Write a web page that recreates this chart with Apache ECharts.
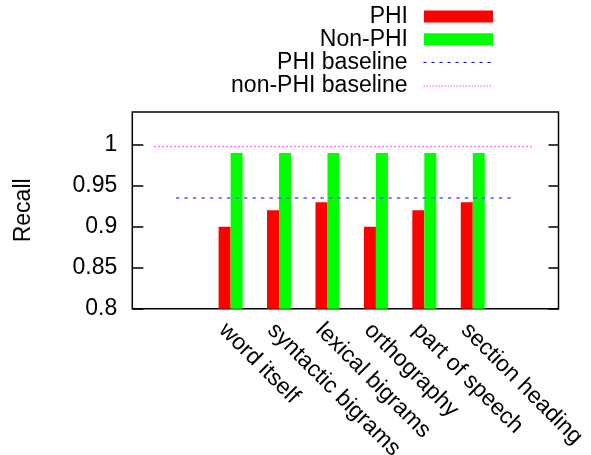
<!DOCTYPE html>
<html><head><meta charset="utf-8">
<script src="https://cdn.jsdelivr.net/npm/echarts@6/dist/echarts.min.js"></script>
<style>html,body{margin:0;padding:0;background:#fff}#c{width:591px;height:455px}</style>
</head><body><div id="c"></div>
<script>
const categories = ['word itself','syntactic bigrams','lexical bigrams','orthography','part of speech','section heading'];
const phiValues = [0.90, 0.92, 0.93, 0.90, 0.92, 0.93];
const nonPhiValues = [0.99, 0.99, 0.99, 0.99, 0.99, 0.99];
const phiBaselineValue = 0.935;
const nonPhiBaselineValue = 0.998;
const phiBaselineSpan = [-1.13, 5.87];
const nonPhiBaselineSpan = [-1.58, 6.27];
const yTicks = [0.8, 0.85, 0.9, 0.95, 1];
const seriesNames = ['PHI', 'Non-PHI', 'PHI baseline', 'non-PHI baseline'];

const FONT = 'Liberation Sans, Arial, Helvetica, sans-serif';
const FS = 23;
const legendTops = [5, 27.8, 51, 74.5];
const legendOverrides = [
  {icon: 'rect'},
  {icon: 'rect'},
  {itemStyle: {color: 'rgba(0,0,0,0)', borderWidth: 0}, lineStyle: {color: '#0000ff', width: 1, type: [3, 5]}},
  {itemStyle: {color: 'rgba(0,0,0,0)', borderWidth: 0}, lineStyle: {color: '#ff44ff', width: 1, type: [1.5, 1.5]}}
];

const chart = echarts.init(document.getElementById('c'), null, {renderer: 'canvas'});
const idx = categories.map((c, i) => i);

chart.setOption({
  animation: false,
  backgroundColor: '#fff',
  grid: {left: 132.3, top: 112, right: 32.5, bottom: 146.3, containLabel: false, outerBoundsMode: 'none',
         show: true, borderColor: '#000', borderWidth: 1.5, backgroundColor: 'transparent'},
  legend: seriesNames.map((name, k) => ({
    data: [Object.assign({name: name}, legendOverrides[k])], right: 98, top: legendTops[k], orient: 'vertical', align: 'right', padding: 0,
    itemWidth: 69, itemHeight: 12, selectedMode: false,
    textStyle: {fontSize: FS, color: '#000', fontFamily: FONT, padding: [0, 11, 0, 0]}
  })),
  xAxis: {
    type: 'value', min: -2.03, max: 6.77,
    splitLine: {show: false}, axisLine: {show: false, onZero: false}, axisTick: {show: false},
    axisLabel: {
      customValues: idx, rotate: -45, margin: 10, verticalAlign: 'top', align: 'left', fontSize: FS, color: '#000', fontFamily: FONT,
      formatter: v => categories[Math.round(v)] || ''
    }
  },
  yAxis: [{
    type: 'value', min: 0.8, max: 1.04, position: 'left',
    name: 'Recall', nameLocation: 'middle', nameRotate: 90, nameGap: 97,
    nameTextStyle: {fontSize: FS, color: '#000', fontFamily: FONT},
    splitLine: {show: false}, axisLine: {show: false, onZero: false},
    axisTick: {show: true, inside: true, length: 11, customValues: yTicks, lineStyle: {color: '#000', width: 1.5}},
    axisLabel: {customValues: yTicks, margin: 15, fontSize: FS, color: '#000', fontFamily: FONT}
  }, {
    type: 'value', min: 0.8, max: 1.04, position: 'right',
    splitLine: {show: false}, axisLine: {show: false, onZero: false},
    axisTick: {show: true, inside: true, length: 10, customValues: yTicks, lineStyle: {color: '#000', width: 1.5}},
    axisLabel: {show: false}
  }],
  series: [
    {name: seriesNames[0], type: 'bar', barWidth: 12, barGap: '0%', itemStyle: {color: '#ff0000'},
     data: idx.map(i => [i, phiValues[i]])},
    {name: seriesNames[1], type: 'bar', barWidth: 12, barGap: '0%', itemStyle: {color: '#00ff00'},
     data: idx.map(i => [i, nonPhiValues[i]])},
    {name: seriesNames[2], type: 'line', symbol: 'none', itemStyle: {color: '#0000ff'},
     lineStyle: {color: '#5555ff', width: 1.5, type: [3.5, 5]},
     data: phiBaselineSpan.map(x => [x, phiBaselineValue])},
    {name: seriesNames[3], type: 'line', symbol: 'none', itemStyle: {color: '#ff44ff'},
     lineStyle: {color: '#ff77ff', width: 1.5, type: [2, 2]},
     data: nonPhiBaselineSpan.map(x => [x, nonPhiBaselineValue])}
  ]
});
</script></body></html>
